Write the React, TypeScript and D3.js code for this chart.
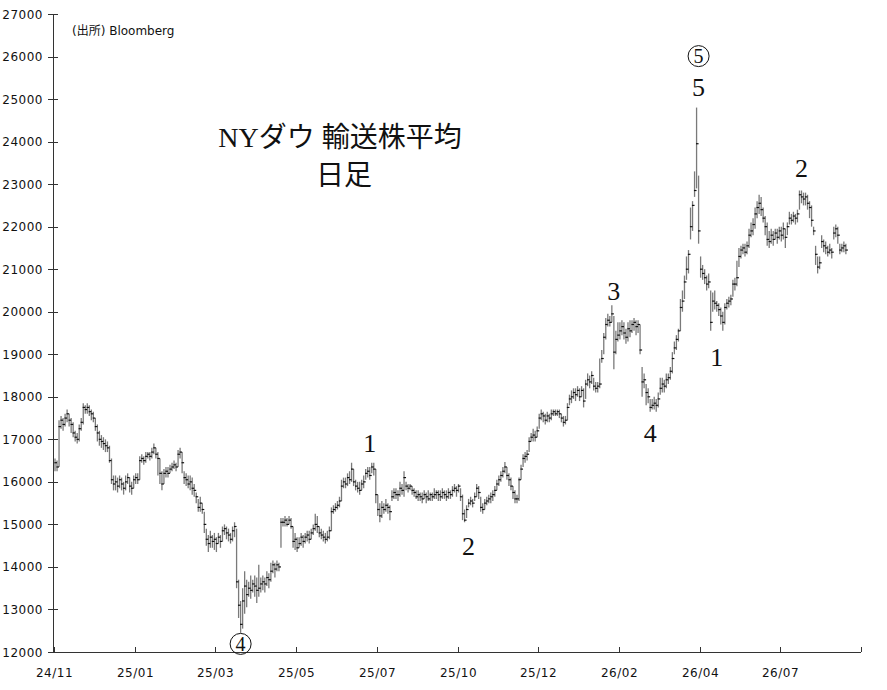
import React from "react";
import * as d3 from "d3";

const closes: number[] = [
16450,16350,17300,17450,17350,17500,17600,17450,17350,17150,
17050,17000,17250,17400,17750,17700,17750,17650,17600,17500,
17300,17150,17000,16950,16900,16850,16800,16500,16050,15950,
16000,15900,16050,15950,15850,16000,16100,15900,15850,16050,
16100,16050,16500,16550,16500,16600,16650,16600,16700,16800,
16650,16550,16200,15950,16200,16250,16200,16300,16350,16400,
16350,16650,16700,16450,16100,16050,15950,16000,15850,15800,
15650,15400,15500,15350,15000,14650,14550,14700,14600,14650,
14550,14700,14600,14850,14900,14800,14750,14650,14850,14950,
13650,13100,12650,13200,13550,13350,13500,13450,13600,13550,
13450,13500,13600,13650,13600,13750,13700,13900,14050,13950,
14050,14000,15050,15050,15100,15000,15100,14950,14600,14650,
14450,14550,14700,14600,14700,14750,14650,14800,14900,15000,
14950,14800,14750,14700,14650,14700,14850,15300,15350,15400,
15450,15550,15900,16000,15950,16100,16050,16300,16000,15900,
15850,15800,15950,16000,16200,16250,16150,16350,16300,15700,
15350,15200,15400,15350,15450,15400,15300,15650,15750,15700,
15700,15850,15800,16100,15900,15850,15900,15800,15750,15650,
15700,15650,15600,15700,15650,15600,15700,15650,15700,15750,
15700,15650,15750,15700,15650,15750,15700,15800,15850,15800,
15900,15650,15250,15100,15350,15500,15550,15500,15650,15850,
15750,15400,15350,15500,15550,15600,15650,15700,15800,15950,
16050,16150,16250,16350,16150,16050,15900,15750,15600,15600,
16050,16300,16550,16600,16650,16950,17050,17100,17050,17200,
17500,17600,17550,17450,17550,17500,17600,17650,17600,17650,
17600,17500,17400,17450,17750,17950,18000,18100,18050,18150,
18000,18150,17900,18300,18400,18350,18500,18250,18200,18250,
18300,18900,19400,19700,19800,19750,19950,19050,19350,19450,
19550,19650,19500,19400,19600,19550,19700,19750,19650,19700,
19100,18350,18400,18100,18000,17750,17800,17850,17800,17950,
18200,18300,18250,18400,18450,18600,18900,19150,19350,19550,
20100,20250,20700,21000,21350,22000,22500,22850,23950,21900,
21000,20900,20800,20650,20700,19750,20250,20200,20150,20050,
19900,19750,20100,20200,20250,20300,20650,20650,20800,21300,
21450,21500,21400,21550,21800,21900,22050,22300,22450,22550,
22400,22200,22000,21700,21650,21800,21700,21850,21750,21900,
21800,21950,21750,22000,22200,22150,22250,22200,22300,22750,
22700,22650,22700,22550,22450,22150,21900,21350,21050,21150,
21650,21550,21500,21400,21450,21400,21850,21950,21800,21450,21500,21550,21450,
];

const highs: number[] = [
16550,16500,17450,17550,17500,17600,17700,17600,17500,17400,
17200,17150,17350,17500,17850,17800,17850,17800,17700,17650,
17500,17350,17200,17100,17050,17000,16950,16850,16550,16150,
16150,16100,16150,16100,16000,16150,16200,16100,16000,16150,
16200,16200,16600,16650,16600,16700,16700,16700,16800,16900,
16800,16700,16550,16250,16300,16350,16350,16400,16450,16500,
16450,16750,16800,16700,16250,16200,16150,16150,16100,15950,
15750,15600,15650,15500,15300,14900,14750,14850,14750,14800,
14700,14800,14750,14950,15000,14950,14900,14800,14950,15050,
14900,13700,13200,13500,13900,13700,13650,13800,13700,13800,
13750,14050,13750,13800,13750,13900,13850,14100,14150,14100,
14150,14100,15150,15150,15200,15150,15200,15150,14950,14800,
14700,14700,14800,14750,14800,14850,14850,14900,15000,15250,
15200,14950,14900,14850,14800,14850,14950,15400,15450,15500,
15550,15650,16050,16100,16100,16200,16250,16450,16300,16050,
16000,16000,16050,16150,16300,16350,16350,16450,16450,16300,
15700,15500,15550,15500,15600,15500,15450,15800,15850,15850,
15800,16000,15950,16250,16000,15950,15950,15900,15850,15800,
15800,15750,15750,15800,15750,15800,15750,15750,15850,15800,
15800,15800,15850,15800,15800,15850,15800,15900,15950,15900,
15950,15850,15700,15350,15450,15600,15650,15600,15750,15950,
15900,15650,15500,15600,15650,15700,15750,15800,15900,16050,
16150,16250,16350,16470,16350,16200,16100,15900,15800,15700,
16100,16400,16650,16700,16750,17050,17150,17250,17200,17300,
17600,17700,17650,17600,17650,17600,17700,17700,17700,17700,
17700,17600,17550,17550,17850,18050,18150,18200,18200,18250,
18200,18250,18200,18400,18550,18500,18600,18450,18350,18350,
18900,19100,19500,19850,19950,19900,20150,19900,19550,19750,
19750,19800,19750,19600,19750,19800,19800,19850,19800,19800,
19700,18700,18550,18300,18200,17950,17950,18000,17950,18100,
18450,18450,18400,18550,18550,18700,19050,19300,19450,19600,
20300,20500,20850,21300,21450,22450,22600,23300,24800,23200,
21300,21100,21000,20850,20900,20500,20450,20500,20250,20200,
20100,20000,20200,20300,20350,20400,20750,20800,21200,21500,
21550,21600,21600,21650,21950,22100,22200,22450,22600,22750,
22700,22450,22250,22100,21900,21950,21900,21950,21950,22000,
22000,22100,21950,22100,22350,22300,22350,22300,22400,22850,
22850,22800,22800,22750,22600,22500,22000,21550,21300,21300,
21800,21700,21650,21550,21600,21500,22000,22050,22000,21600,21600,21650,21600,
];

const lows: number[] = [
16250,16250,16350,17250,17200,17300,17400,17300,17150,17050,
16950,16900,16950,17200,17350,17600,17600,17550,17450,17400,
17200,16950,16850,16800,16750,16700,16700,16450,15950,15800,
15800,15750,15850,15800,15700,15800,15950,15750,15700,15850,
15950,15950,16050,16450,16400,16450,16550,16500,16550,16650,
16550,16150,15950,15800,15950,16100,16100,16200,16250,16300,
16250,16350,16550,16200,15950,15900,15850,15800,15700,15650,
15500,15300,15300,15250,14800,14500,14350,14450,14450,14400,
14350,14550,14450,14600,14750,14650,14600,14550,14600,14700,
13500,12800,12450,12550,12900,13050,13300,13250,13400,13300,
13150,13300,13400,13450,13400,13550,13500,13650,13850,13750,
13900,13900,14450,14950,14950,14950,15000,14900,14450,14400,
14350,14450,14500,14450,14550,14600,14550,14650,14750,14850,
14800,14700,14650,14600,14550,14600,14650,14850,15250,15300,
15350,15400,15550,15850,15850,15900,15950,16000,15900,15800,
15750,15700,15800,15850,16050,16100,16050,16200,16150,15500,
15200,15050,15150,15250,15300,15250,15100,15550,15600,15600,
15550,15650,15700,15650,15800,15750,15800,15700,15650,15600,
15550,15550,15500,15600,15500,15550,15550,15550,15600,15600,
15550,15550,15600,15600,15550,15600,15600,15650,15750,15650,
15750,15550,15100,15050,15150,15400,15450,15400,15550,15650,
15600,15300,15250,15350,15450,15500,15500,15550,15650,15800,
15900,16000,16100,16200,16050,15900,15800,15600,15500,15500,
15550,16050,16350,16450,16500,16700,16950,16950,16950,17050,
17250,17450,17400,17350,17400,17400,17450,17550,17550,17550,
17500,17400,17300,17350,17450,17800,17850,17950,17900,18000,
17900,18000,17750,17950,18250,18200,18300,18150,18100,18100,
18200,18800,19000,19350,19650,19650,19750,18650,19000,19300,
19350,19450,19350,19250,19300,19400,19500,19550,19450,19500,
19000,18000,18200,17800,17850,17650,17700,17700,17650,17750,
18050,18100,18100,18200,18300,18400,18550,19000,19100,19300,
19550,20000,20300,20750,20900,21700,21900,22700,22900,21600,
20800,20750,20650,20500,20550,19550,20000,20050,20000,19900,
19700,19550,19700,20050,20100,20150,20350,20500,20600,21050,
21250,21350,21300,21350,21500,21750,21800,21950,22200,22300,
22250,22100,21800,21550,21500,21600,21550,21700,21600,21700,
21650,21700,21500,21800,22050,22050,22100,22050,22100,22400,
22550,22500,22500,22400,22200,22000,21800,21100,20900,21000,
21500,21400,21350,21300,21350,21250,21700,21750,21600,21350,21400,21400,21350,
];

const xTickLabels: string[] = ["24/11","25/01","25/03","25/05","25/07","25/10","25/12","26/02","26/04","26/07",""];
const yTicks: number[] = [12000,13000,14000,15000,16000,17000,18000,19000,20000,21000,22000,23000,24000,25000,26000,27000];

// wave labels: bar index, price level of the text baseline (or circle centre), text, circled
const waveIdx: number[] = [156, 205, 277, 295, 319, 328, 370, 92, 319];
const wavePrice: number[] = [16700, 14280, 20275, 16940, 25070, 18720, 23170, 12190, 26010];
const waveText: string[] = ["1", "2", "3", "4", "5", "1", "2", "4", "5"];
const waveCircled: boolean[] = [false, false, false, false, false, false, false, true, true];

const SLOTS = 400;
const BARS_PER_TICK = 40;

export default function App() {
  const W = 887, H = 690;
  const x = d3.scaleLinear().domain([0, SLOTS]).range([54, 861]);
  const y = d3.scaleLinear().domain([12000, 27000]).range([652, 14]);
  const bx = (i: number) => x(i + 0.5);
  const axisColor = "#333";
  const serif = "'Liberation Serif', 'Noto Sans CJK JP', serif";
  const sans = "'DejaVu Sans', sans-serif";

  return (
    <svg width={W} height={H} style={{ position: "absolute", left: 0, top: 0, background: "#fff" }}>
      {/* bars */}
      <g>
        {closes.map((c, i) => (
          <line key={"b" + i} x1={bx(i)} x2={bx(i)} y1={y(highs[i])} y2={y(lows[i])} stroke="#7a7a7a" strokeWidth={1.3} />
        ))}
        {closes.map((c, i) => (
          <line key={"c" + i} x1={bx(i) - 0.6} x2={bx(i) + 2} y1={y(c)} y2={y(c)} stroke="#111" strokeWidth={1.2} />
        ))}
      </g>
      {/* axes */}
      <g shapeRendering="crispEdges">
        <line x1={53.5} x2={53.5} y1={y(27000)} y2={y(12000)} stroke={axisColor} strokeWidth={1} />
        {yTicks.map((t) => (
          <g key={"yt" + t}>
            <line x1={48} x2={58} y1={Math.round(y(t)) + 0.5} y2={Math.round(y(t)) + 0.5} stroke={axisColor} />
            <text x={43} y={y(t) + 4.5} textAnchor="end" fontFamily={sans} fontSize={12} fill="#111" style={{ letterSpacing: "0.5px" }}>
              {t}
            </text>
          </g>
        ))}
        <line x1={53} x2={861} y1={652.5} y2={652.5} stroke={axisColor} strokeWidth={1} />
        {xTickLabels.map((lab, k) => {
          const tx = Math.round(x(k * BARS_PER_TICK)) + 0.5;
          return (
            <g key={"xt" + k}>
              <line x1={tx} x2={tx} y1={647} y2={652} stroke={axisColor} />
              <text x={tx} y={677} textAnchor="middle" fontFamily={sans} fontSize={12} fill="#111" style={{ letterSpacing: "0.5px" }}>
                {lab}
              </text>
            </g>
          );
        })}
      </g>
      {/* source */}
      <text x={72} y={35} fontFamily={"'DejaVu Sans', 'Noto Sans CJK JP', sans-serif"} fontSize={12} fill="#111">
        (出所) Bloomberg
      </text>
      {/* title */}
      <text x={340} y={147} textAnchor="middle" fontFamily={serif} fontSize={28} fill="#111">
        NYダウ 輸送株平均
      </text>
      <text x={344} y={185} textAnchor="middle" fontFamily={serif} fontSize={28} fill="#111">
        日足
      </text>
      {/* wave labels */}
      {waveText.map((t, k) => {
        const cx = x(waveIdx[k] + 0.5);
        const cy = y(wavePrice[k]);
        if (waveCircled[k]) {
          return (
            <g key={"w" + k}>
              <circle cx={cx} cy={cy} r={10.5} fill="none" stroke="#111" strokeWidth={1} />
              <text x={cx} y={cy + 7} textAnchor="middle" fontFamily={serif} fontSize={20} fill="#111">{t}</text>
            </g>
          );
        }
        return (
          <text key={"w" + k} x={cx} y={cy} textAnchor="middle" fontFamily={serif} fontSize={26} fill="#111">{t}</text>
        );
      })}
    </svg>
  );
}
